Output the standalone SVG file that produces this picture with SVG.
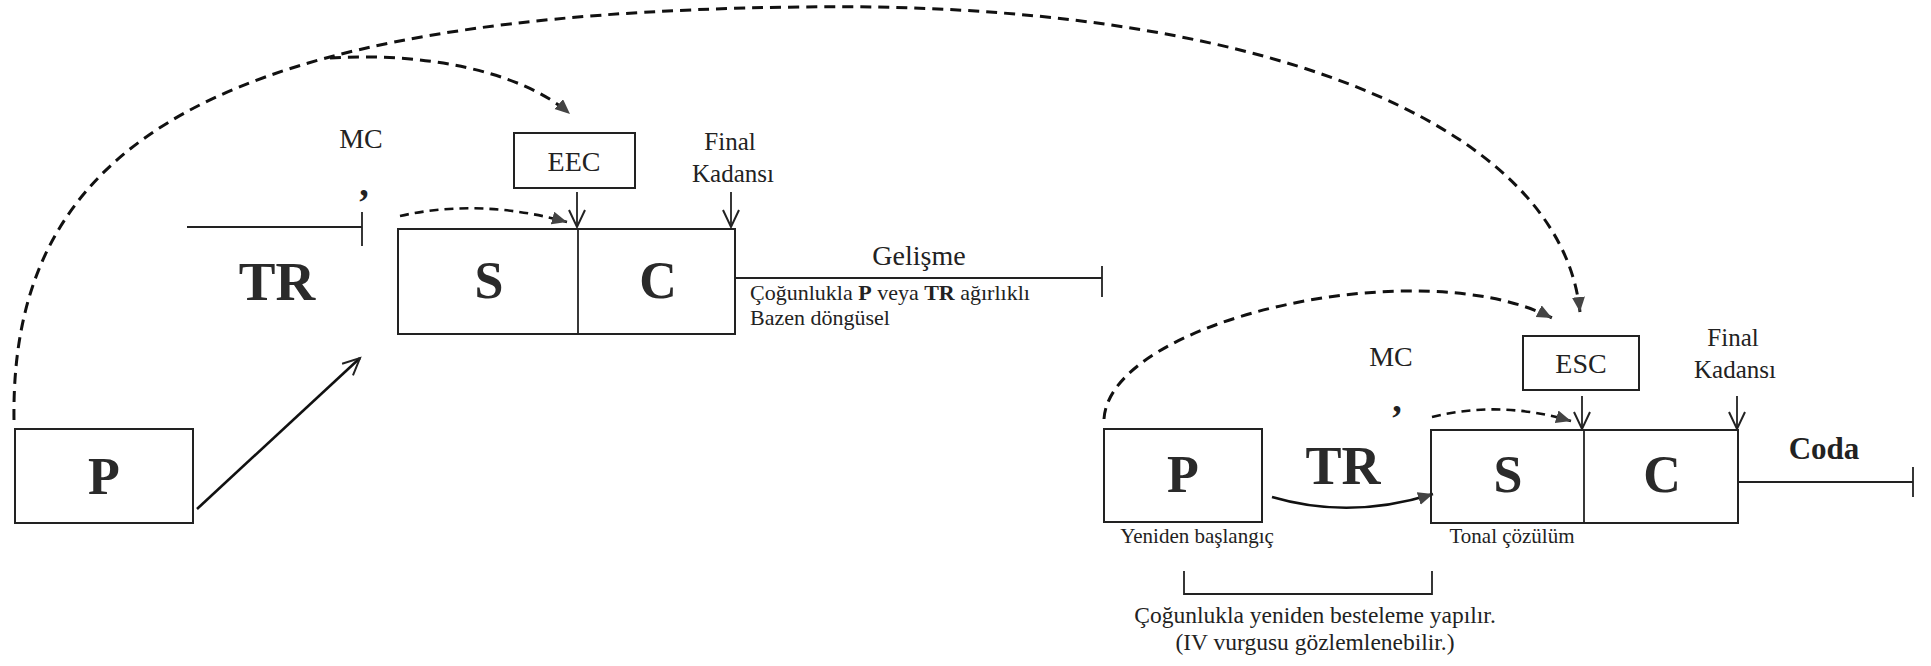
<svg xmlns="http://www.w3.org/2000/svg" width="1931" height="666" viewBox="0 0 1931 666">
<style>
text{font-family:"Liberation Serif","DejaVu Serif",serif;fill:#222}
.big{font-weight:bold;font-size:52px;text-anchor:middle;fill:#2a2a2a}
.mid{font-size:28px;text-anchor:middle}
.fin{font-size:25px;text-anchor:middle}
.sm{font-size:22px}
.nt{font-size:23.5px;text-anchor:middle}
.lb{font-size:21px;text-anchor:middle}
.cm{font-size:38px;font-weight:bold;text-anchor:middle}
.box{fill:none;stroke:#222;stroke-width:2}
.ln{fill:none;stroke:#222;stroke-width:1.8}
.dash{fill:none;stroke:#111;stroke-width:3;stroke-dasharray:11 7}
.dash2{fill:none;stroke:#111;stroke-width:2.6;stroke-dasharray:9 6}
.sol{fill:none;stroke:#111;stroke-width:2.6}
</style>
<defs>
<marker id="tri" markerUnits="userSpaceOnUse" markerWidth="16" markerHeight="14" refX="15" refY="6.5" orient="auto">
<path d="M0,0 L15,6.5 L0,13 z" fill="#444"/>
</marker>
<marker id="vee" markerUnits="userSpaceOnUse" markerWidth="22" markerHeight="20" refX="18" refY="9" orient="auto">
<path d="M1,1 L18,9 L1,17" fill="none" stroke="#222" stroke-width="2"/>
</marker>
</defs>

<g id="connectors">
<path class="dash" d="M14,420 C10,140 220,14 800,7 C1250,0 1560,120 1580,312" marker-end="url(#tri)"/>
<path class="dash" d="M330,58 C420,52 520,70 570,114" marker-end="url(#tri)"/>
<path class="dash" d="M1104,419 C1110,320 1420,250 1552,318" marker-end="url(#tri)"/>
<path class="dash2" d="M400,216 Q480,198 567,222" marker-end="url(#tri)"/>
<path class="dash2" d="M1432,417 Q1500,400 1571,421" marker-end="url(#tri)"/>
<path class="sol" d="M197,509 L360,358" marker-end="url(#vee)"/>
<path class="sol" d="M1272,497 Q1350,520 1433,494" marker-end="url(#tri)"/>
<path class="ln" d="M577,192 V227" marker-end="url(#vee)"/>
<path class="ln" d="M731,192 V227" marker-end="url(#vee)"/>
<path class="ln" d="M1582,396 V429" marker-end="url(#vee)"/>
<path class="ln" d="M1737,396 V429" marker-end="url(#vee)"/>
</g>

<g id="p1">
<rect class="box" x="15" y="429" width="178" height="94"/>
<text class="big" x="104" y="494">P</text>
</g>

<g id="tr1">
<path class="ln" d="M187,227 H362 M362,212 V246"/>
<text class="big" x="277" y="300" style="font-size:55px">TR</text>
</g>

<g id="mc1">
<text class="mid" x="361" y="148">MC</text>
<text class="cm" x="364" y="196">,</text>
</g>

<g id="sc1">
<rect class="box" x="398" y="229" width="337" height="105"/>
<path class="ln" d="M578,229 V334"/>
<text class="big" x="489" y="298">S</text>
<text class="big" x="658" y="298">C</text>
</g>

<g id="eec">
<rect class="box" x="514" y="133" width="121" height="55"/>
<text class="mid" x="574" y="171">EEC</text>
</g>

<g id="final1">
<text class="fin" x="730" y="150">Final</text>
<text class="fin" x="733" y="182">Kadansı</text>
</g>

<g id="gelisme">
<path class="ln" d="M735,278 H1102 M1102,266 V297"/>
<text class="mid" x="919" y="265">Gelişme</text>
<text class="sm" x="750" y="300">Çoğunlukla <tspan font-weight="bold">P</tspan> veya <tspan font-weight="bold">TR</tspan> ağırlıklı</text>
<text class="sm" x="750" y="325">Bazen döngüsel</text>
</g>

<g id="p2">
<rect class="box" x="1104" y="429" width="158" height="93"/>
<text class="big" x="1183" y="492">P</text>
<text class="lb" x="1197" y="543">Yeniden başlangıç</text>
</g>

<g id="tr2">
<text class="big" x="1343" y="484" style="font-size:54px">TR</text>
</g>

<g id="mc2">
<text class="mid" x="1391" y="366">MC</text>
<text class="cm" x="1397" y="412">,</text>
</g>

<g id="sc2">
<rect class="box" x="1431" y="430" width="307" height="93"/>
<path class="ln" d="M1584,430 V523"/>
<text class="big" x="1508" y="492">S</text>
<text class="big" x="1662" y="492">C</text>
<text class="lb" x="1512" y="543">Tonal çözülüm</text>
</g>

<g id="esc">
<rect class="box" x="1523" y="336" width="116" height="54"/>
<text class="mid" x="1581" y="373">ESC</text>
</g>

<g id="final2">
<text class="fin" x="1733" y="346">Final</text>
<text class="fin" x="1735" y="378">Kadansı</text>
</g>

<g id="coda">
<path class="ln" d="M1738,482 H1913 M1913,467 V497"/>
<text class="mid" x="1824" y="459" style="font-weight:bold;font-size:31px">Coda</text>
</g>

<g id="note">
<path class="ln" d="M1184,571 V594 H1432 V571"/>
<text class="nt" x="1315" y="623">Çoğunlukla yeniden besteleme yapılır.</text>
<text class="nt" x="1315" y="650">(IV vurgusu gözlemlenebilir.)</text>
</g>
</svg>
